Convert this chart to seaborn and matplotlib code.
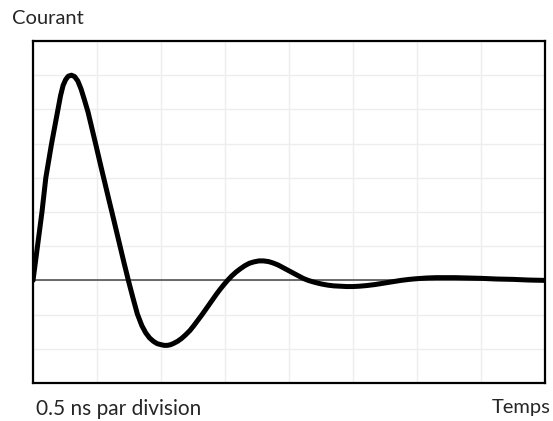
import matplotlib
matplotlib.use('Agg')
import matplotlib.pyplot as plt
import seaborn as sns
import numpy as np

divisions = [0.00, 0.035, 0.07, 0.105, 0.14, 0.17, 0.20, 0.245, 0.29, 0.34, 0.39,
             0.43, 0.47, 0.51, 0.55, 0.60, 0.65, 0.70, 0.75, 0.80, 0.86, 0.92,
             0.99, 1.05, 1.11, 1.17, 1.24, 1.30, 1.36, 1.42, 1.49, 1.56, 1.63,
             1.70, 1.76, 1.82, 1.88, 1.94, 2.00, 2.05, 2.10, 2.15, 2.20, 2.26,
             2.32, 2.38, 2.45, 2.51, 2.57, 2.63, 2.68, 2.74, 2.80, 2.86, 2.92,
             2.98, 3.04, 3.10, 3.17, 3.24, 3.31, 3.38, 3.45, 3.53, 3.60, 3.68,
             3.75, 3.83, 3.90, 3.98, 4.07, 4.15, 4.22, 4.30, 4.37, 4.45, 4.52,
             4.61, 4.70, 4.80, 4.90, 5.00, 5.10, 5.22, 5.35, 5.45, 5.55, 5.65,
             5.75, 5.88, 6.00, 6.15, 6.30, 6.45, 6.60, 6.80, 7.00, 7.25, 7.50,
             7.75, 8.00]
courant = [0.00, 0.50, 1.00, 1.50, 2.00, 2.50, 3.00, 3.50, 4.00, 4.50, 5.00,
           5.40, 5.70, 5.87, 5.97, 6.00, 5.96, 5.83, 5.60, 5.30, 4.92, 4.45,
           3.90, 3.42, 2.95, 2.48, 1.94, 1.47, 1.00, 0.53, 0.00, -0.50, -0.98,
           -1.32, -1.53, -1.68, -1.78, -1.85, -1.88, -1.90, -1.90, -1.88, -1.84, -1.78,
           -1.70, -1.60, -1.47, -1.33, -1.18, -1.03, -0.90, -0.74, -0.58, -0.42, -0.27,
           -0.13, 0.00, 0.12, 0.24, 0.34, 0.43, 0.50, 0.54, 0.57, 0.57, 0.55,
           0.51, 0.45, 0.38, 0.30, 0.21, 0.13, 0.06, 0.00, -0.04, -0.08, -0.11,
           -0.14, -0.16, -0.17, -0.18, -0.18, -0.17, -0.15, -0.12, -0.09, -0.06, -0.03,
           0.00, 0.03, 0.05, 0.07, 0.08, 0.08, 0.08, 0.07, 0.06, 0.04, 0.03,
           0.01, 0.00]
ns_par_division = 0.5
temps = [d * ns_par_division for d in divisions]

sns.set_style('white')
plt.rcParams['font.family'] = ['Lato', 'DejaVu Sans']

fig = plt.figure(figsize=(5.53, 4.21), dpi=100)
ax = fig.add_axes([0.0597, 0.0903, 0.9258, 0.8123])

# Grille
for gx in np.arange(0, 4.01, 0.5):
    ax.axvline(gx, color='#ededed', lw=1, zorder=0)
for gy in range(-3, 8):
    ax.axhline(gy, color='#ededed', lw=1, zorder=0)
ax.axhline(0, color='#444444', lw=1.1, zorder=1)

sns.lineplot(x=temps, y=courant, color='black', lw=3.6, ax=ax, zorder=3)
ax.lines[-1].set_solid_joinstyle('round')
ax.lines[-1].set_solid_capstyle('round')

ax.set_xlim(0, 4)
ax.set_ylim(-3, 7)
ax.set_xticks([])
ax.set_yticks([])
for s in ax.spines.values():
    s.set_color('black')
    s.set_linewidth(1.6)

fig.text(12 / 553, 1 - 18 / 421, 'Courant', fontsize=14.5, va='center', ha='left')
fig.text(36 / 553, 1 - 409 / 421, '0.5 ns par division', fontsize=15, va='center', ha='left')
fig.text(551 / 553, 1 - 407 / 421, 'Temps', fontsize=14.5, va='center', ha='right')

fig.savefig('out.png', dpi=100)
